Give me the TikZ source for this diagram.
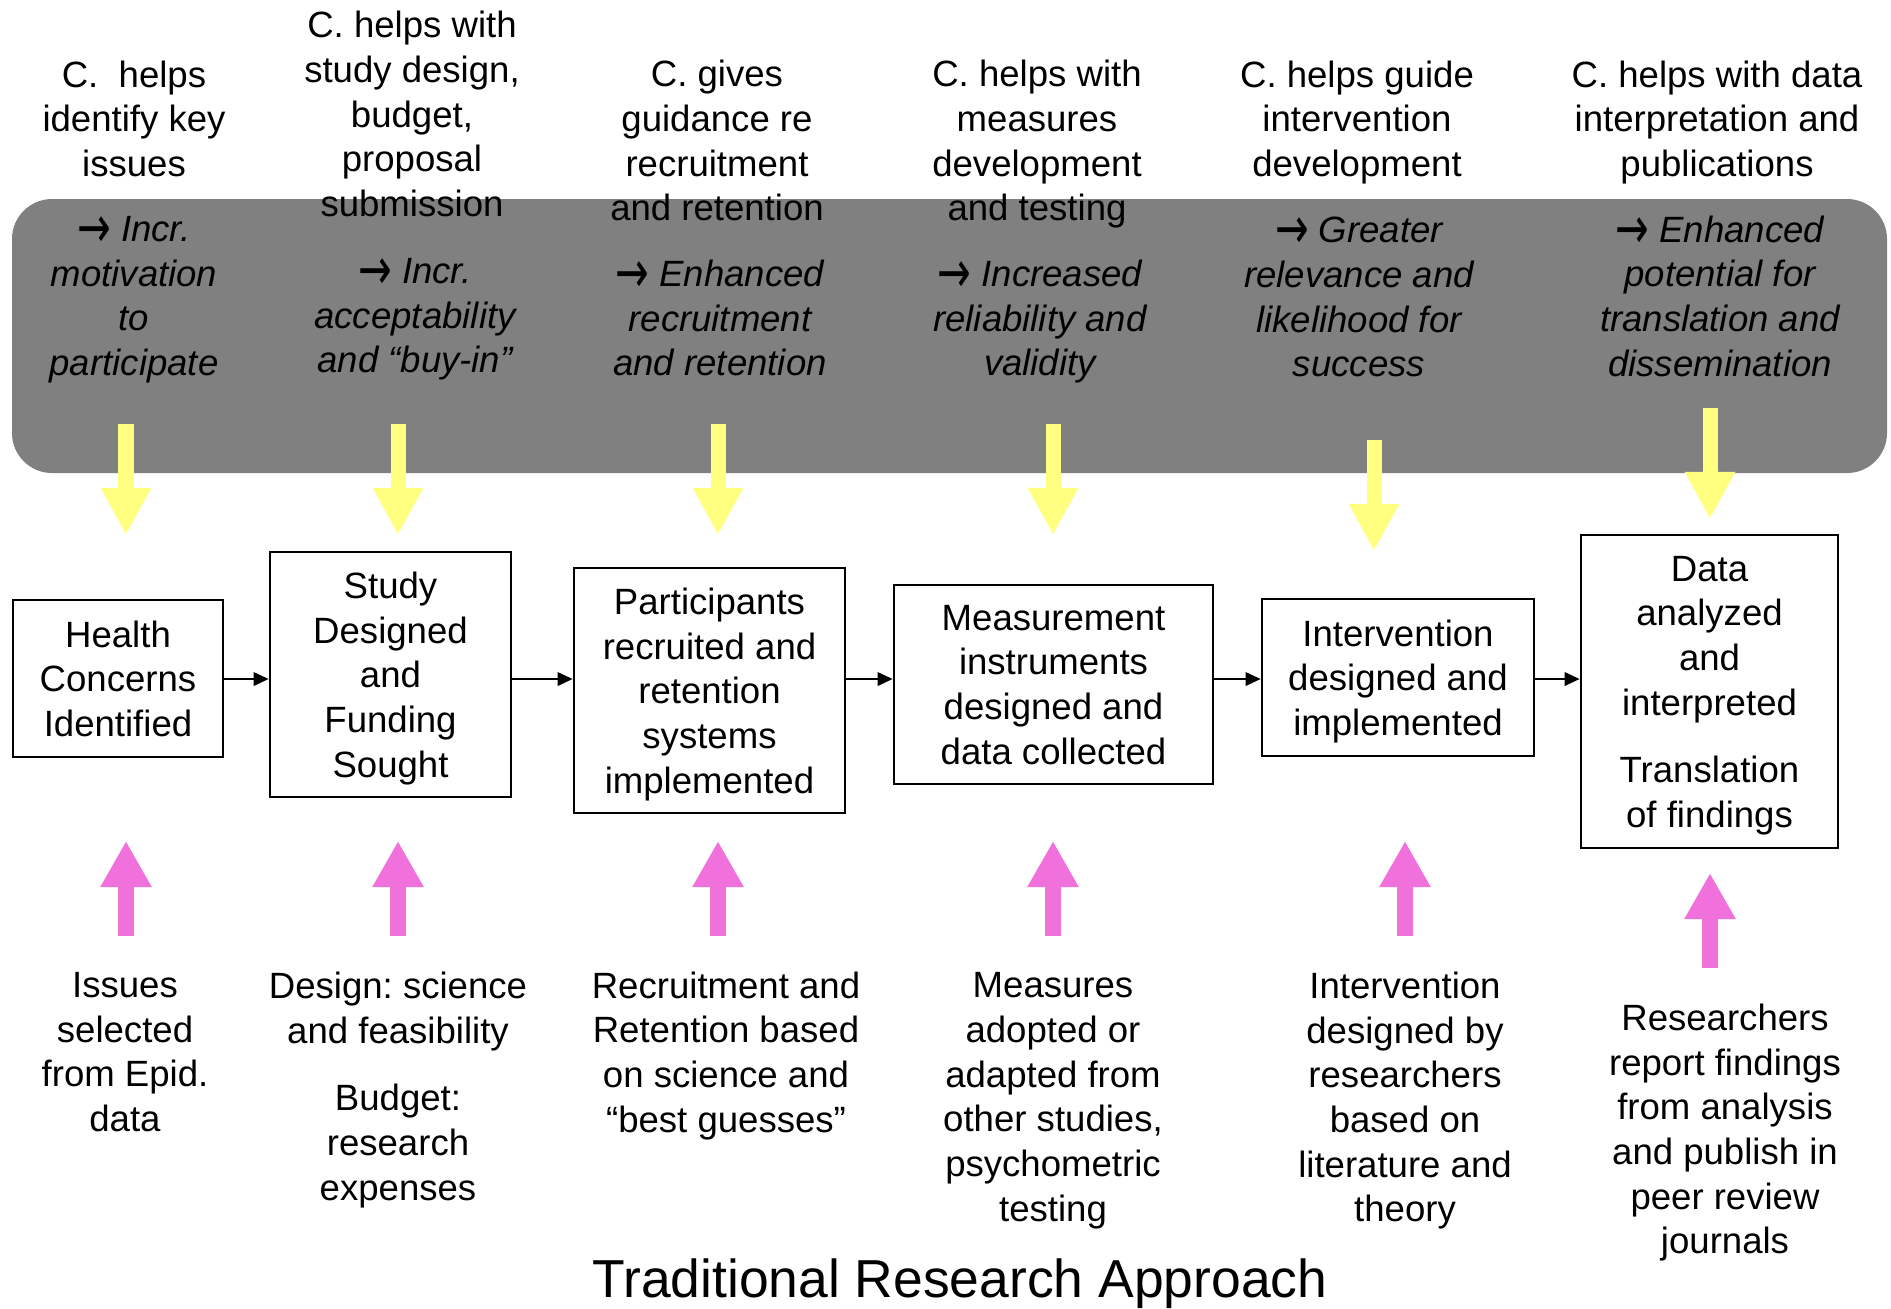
\documentclass[tikz,border=0pt]{standalone}
\usepackage{fontspec}
\setmainfont{Liberation Sans}
\newfontfamily\arrowfont{DejaVu Sans}
\usetikzlibrary{arrows.meta}
\frenchspacing

\definecolor{bandgray}{RGB}{128,128,128}
\definecolor{hiyellow}{RGB}{255,255,128}
\definecolor{hipink}{RGB}{240,112,220}
\newcommand{\bodyfont}{\fontsize{10.4}{12.7}\selectfont}
\newcommand{\gainto}{\raisebox{-0.16em}{\scalebox{1.1}[1.6]{\arrowfont\upshape →}}}

\tikzset{
  stage/.style={draw, line width=0.7pt, align=center, inner sep=0pt, text depth=0pt, font=\bodyfont},
  note/.style={align=center, inner sep=0pt, text depth=0pt, font=\bodyfont},
  gain/.style={align=center, inner sep=0pt, text depth=0pt, font=\bodyfont\itshape},
  flowarrow/.style={line width=0.7pt, -{Triangle[length=4.3pt,width=3.8pt]}},
  yarrow/.style={draw=hiyellow, line width=0.15cm, -{Triangle[length=0.47cm,width=0.47cm]}},
  parrow/.style={draw=hipink, line width=0.16cm, -{Triangle[length=0.46cm,width=0.48cm]}}
}

\begin{document}
\begin{tikzpicture}[x=0.01cm, y=-0.01cm]
	%%%%% FRAME %%%%%
	\useasboundingbox (0,0) rectangle (1891,1308);
	
	\fill[bandgray, rounded corners=0.4cm] (12,199) rectangle (1887,473);
	
	%%%%% CONSULTANT ROLE %%%%%
	\node[note] (help1) at (134,118.5) {C.\ \ helps\\identify key\\issues};
	\node[note] (help2) at (412,114) {C. helps with\\study design,\\budget,\\proposal\\submission};
	\node[note] (help3) at (717,140.5) {C. gives\\guidance re\\recruitment\\and retention};
	\node[note] (help4) at (1037,140.5) {C. helps with\\measures\\development\\and testing};
	\node[note] (help5) at (1357,118.5) {C. helps guide\\intervention\\development};
	\node[note] (help6) at (1717,118.5) {C. helps with data\\interpretation and\\publications};
	
	\node[gain] (gain1) at (134,296) {\gainto{} Incr.\\motivation\\to\\participate};
	\node[gain] (gain2) at (415,315.5) {\gainto{} Incr.\\acceptability\\and “buy-in”};
	\node[gain] (gain3) at (720,318) {\gainto{} Enhanced\\recruitment\\and retention};
	\node[gain] (gain4) at (1040,318) {\gainto{} Increased\\reliability and\\validity};
	\node[gain] (gain5) at (1359,297) {\gainto{} Greater\\relevance and\\likelihood for\\success};
	\node[gain] (gain6) at (1720,296) {\gainto{} Enhanced\\potential for\\translation and\\dissemination};
	
	%%%%% RESEARCH STAGES %%%%%
	\node[stage, minimum width=2.10cm, minimum height=1.57cm] (health) at (118,678.5) {Health\\Concerns\\Identified};
	\node[stage, minimum width=2.41cm, minimum height=2.45cm] (design) at (390.5,674.5) {Study\\Designed\\and\\Funding\\Sought};
	\node[stage, minimum width=2.71cm, minimum height=2.45cm] (recruit) at (709.5,690.5) {Participants\\recruited and\\retention\\systems\\implemented};
	\node[stage, minimum width=3.19cm, minimum height=1.99cm] (measure) at (1053.5,684.5) {Measurement\\instruments\\designed and\\data collected};
	\node[stage, minimum width=2.72cm, minimum height=1.57cm] (interv) at (1398,677.5) {Intervention\\designed and\\implemented};
	\node[stage, minimum width=2.57cm, minimum height=3.13cm] (analysis) at (1709.5,691.5) {Data\\analyzed\\and\\interpreted\\[6.5pt]Translation\\of findings};
	
	\coordinate (row) at (0,679);
	\draw[flowarrow] (health.east |- row) -- (design.west |- row);
	\draw[flowarrow] (design.east |- row) -- (recruit.west |- row);
	\draw[flowarrow] (recruit.east |- row) -- (measure.west |- row);
	\draw[flowarrow] (measure.east |- row) -- (interv.west |- row);
	\draw[flowarrow] (interv.east |- row) -- (analysis.west |- row);
	
	%%%%% TRADITIONAL INPUT %%%%%
	\node[note] (input1) at (125,1052) {Issues\\selected\\from Epid.\\data};
	\node[note] (input2) at (398,1086) {Design: science\\and feasibility\\[6.5pt]Budget:\\research\\expenses};
	\node[note] (input3) at (726,1052) {Recruitment and\\Retention based\\on science and\\“best guesses”};
	\node[note] (input4) at (1053,1097) {Measures\\adopted or\\adapted from\\other studies,\\psychometric\\testing};
	\node[note] (input5) at (1405,1097) {Intervention\\designed by\\researchers\\based on\\literature and\\theory};
	\node[note] (input6) at (1725,1129) {Researchers\\report findings\\from analysis\\and publish in\\peer review\\journals};
	
	%%%%% BLOCK ARROWS %%%%%
	\draw[yarrow] (126,424) -- (126,535);
	\draw[yarrow] (398,424) -- (398,535);
	\draw[yarrow] (718,424) -- (718,535);
	\draw[yarrow] (1053,424) -- (1053,535);
	\draw[yarrow] (1374,440) -- (1374,551);
	\draw[yarrow] (1710,408) -- (1710,519);
	
	\draw[parrow] (126,936) -- (126,841);
	\draw[parrow] (398,936) -- (398,841);
	\draw[parrow] (718,936) -- (718,841);
	\draw[parrow] (1053,936) -- (1053,841);
	\draw[parrow] (1405,936) -- (1405,841);
	\draw[parrow] (1710,968) -- (1710,873);
	
	\node[font=\fontsize{15.2}{18}\selectfont, anchor=base, inner sep=0pt] (title) at (960,1297) {Traditional Research Approach};
\end{tikzpicture}
\end{document}
